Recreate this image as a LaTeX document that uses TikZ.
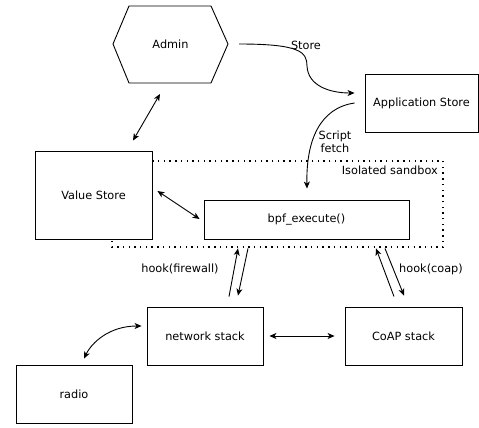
\documentclass[tikz,border=0pt]{standalone}
\usepackage{fontspec}
\setmainfont{DejaVu Sans}
\usetikzlibrary{arrows.meta,calc}
\begin{document}
\begin{tikzpicture}[x=1pt,y=-1pt,
  every node/.style={font=\fontsize{11.3}{13.5}\selectfont},
  box/.style={draw, line width=0.9pt, fill=white, inner sep=0pt},
  conn/.style={line width=0.9pt, {Stealth[length=7pt,width=6pt,inset=2pt]}-{Stealth[length=7pt,width=6pt,inset=2pt]}},
  oneway/.style={line width=0.9pt, -{Stealth[length=7pt,width=6pt,inset=2pt]}},
  lbl/.style={inner sep=1pt, align=center}]
\useasboundingbox (0,0) rectangle (479,428);
% sandbox
\draw[line width=1.4pt, dash pattern=on 1.4pt off 4.3pt] (112,161) rectangle (443,247);
\node[lbl, anchor=east] (sandlbl) at (439,170) {Isolated sandbox};
% nodes
\draw[line width=0.9pt, fill=white] (113,44) -- (129,6) -- (211,6) -- (228,44) -- (211,83) -- (129,83) -- cycle;
\node (admin) at (170.5,44) {Admin};
\node[box, minimum width=113pt, minimum height=58pt] (app) at (421.5,103) {Application Store};
\node[box, minimum width=117pt, minimum height=88pt] (value) at (93.5,195) {Value Store};
\node[box, minimum width=205pt, minimum height=39pt] (bpf) at (306.5,219.5) {bpf\_execute()};
\node[box, minimum width=116pt, minimum height=58pt] (net) at (205,336) {network stack};
\node[box, minimum width=117pt, minimum height=58pt] (coap) at (403.5,336) {CoAP stack};
\node[box, minimum width=116pt, minimum height=58pt] (radio) at (74,394) {radio};
% connectors
\draw[conn] ($(admin)+(-10.5,50)$) -- ($(value.north)+(39.5,-10)$);
\draw[oneway] ($(admin)+(68.5,0)$) .. controls (300,44) and (307,52) .. (307,66)
   .. controls (308,86) and (330,93) .. ($(app.west)+(-10,-10)$);
\node[lbl] (storelbl) at (306,45) {Store};
\draw[oneway] ($(app.west)+(-10,0)$) .. controls (320,108) and (306,140) .. ($(bpf.north)+(0.5,-11)$);
\node[lbl] (fetchlbl) at (335,142) {Script\\fetch};
\draw[conn] ($(value.east)+(5,-4)$) -- ($(bpf.west)+(-4,-0.5)$);
\draw[oneway] ($(net.north)+(24,-10)$) -- ($(bpf.south)+(-68.5,9)$);
\draw[oneway] ($(bpf.south)+(-58.5,9)$) -- ($(net.north)+(33,-11)$);
\node[lbl] (fwlbl) at (180,269) {hook(firewall)};
\draw[oneway] ($(coap.north)+(-9.5,-10)$) -- ($(bpf.south)+(69.5,9)$);
\draw[oneway] ($(bpf.south)+(78.5,9)$) -- ($(coap.north)+(0.5,-11)$);
\node[lbl] (coaplbl) at (431,269) {hook(coap)};
\draw[conn] ($(net.east)+(6,0)$) -- ($(coap.west)+(-10,0)$);
\draw[conn] ($(radio.north)+(10,-6)$) .. controls (92,342) and (110,326) .. ($(net.west)+(-5,-10)$);
\end{tikzpicture}
\end{document}
